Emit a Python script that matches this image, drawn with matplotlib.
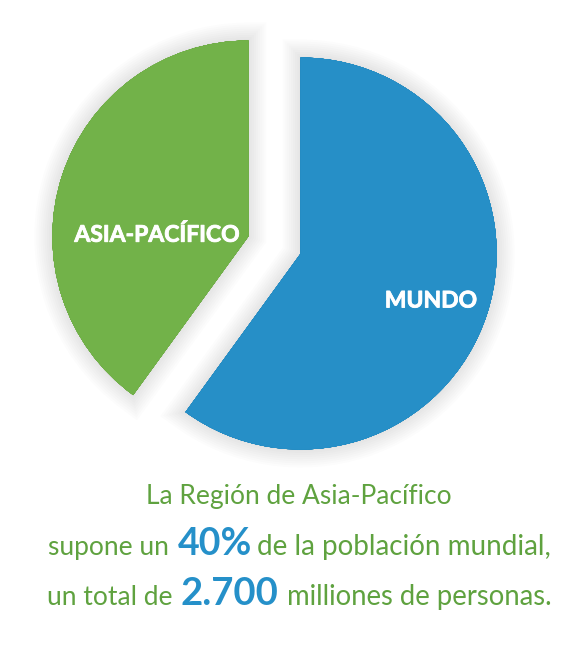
import matplotlib
matplotlib.use('Agg')
import matplotlib.pyplot as plt
import matplotlib.patheffects as pe

labels = ['MUNDO', 'ASIA-PACÍFICO']
shares = [60, 40]
cols = ['#268fc7', '#72b249']
green = '#5fa23f'
blue = '#2590c9'

fig = plt.figure(figsize=(5.76, 6.54), dpi=100)
ax = fig.add_axes([0, 0, 1, 1])

# explode is in data units here, the axes run in pixels
wedges, _ = ax.pie(shares,
                   colors=cols,
                   startangle=90,
                   counterclock=False,
                   explode=(27.5, 27.5),
                   center=(274.5, 654 - 245),
                   radius=196,
                   frame=True)

# soft grey shadow round the slices
glow = [pe.withStroke(linewidth=w, foreground='#000000', alpha=0.012) for w in range(26, 1, -3)]
for w in wedges:
    w.set_path_effects(glow + [pe.Normal()])

ax.set_xlim(0, 576)
ax.set_ylim(0, 654)
ax.axis('off')

thick = [pe.withStroke(linewidth=0.6, foreground='white')]
ax.text(157, 654 - 235, labels[1], color='white', family='Lato', weight='bold',
        fontsize=16.5, ha='center', va='center', path_effects=thick)
ax.text(431, 654 - 301, labels[0], color='white', family='Lato', weight='bold',
        fontsize=16.5, ha='center', va='center', path_effects=thick)

txt = dict(family='Lato', va='baseline', ha='left')
ax.text(146, 654 - 504, 'La Región de Asia-Pacífico', color=green, fontsize=19, **txt)
ax.text(48, 654 - 555, 'supone un', color=green, fontsize=19, **txt)
ax.text(178, 654 - 555, '40%', color=blue, fontsize=27, weight='bold', **txt)
ax.text(257, 654 - 555, 'de la población mundial,', color=green, fontsize=20, **txt)
ax.text(47, 654 - 605, 'un total de', color=green, fontsize=19, **txt)
ax.text(181, 654 - 605, '2.700', color=blue, fontsize=27.5, weight='bold', **txt)
ax.text(287, 654 - 605, 'milliones de personas.', color=green, fontsize=19.8, **txt)

plt.savefig('out.png', dpi=100)
